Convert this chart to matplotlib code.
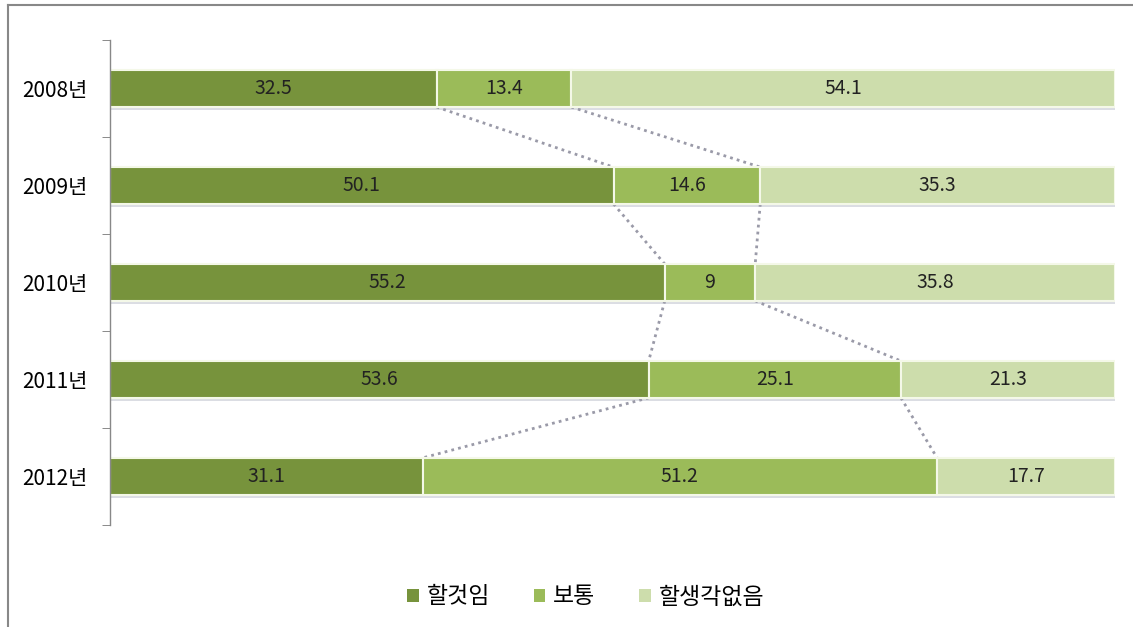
import matplotlib.pyplot as plt
import numpy as np
from matplotlib.lines import Line2D
from matplotlib.patches import Patch

plt.rcParams['font.family'] = ['Noto Sans CJK KR', 'DejaVu Sans']

years = ['2008년', '2009년', '2010년', '2011년', '2012년']
will_do = [32.5, 50.1, 55.2, 53.6, 31.1]
normal = [13.4, 14.6, 9, 25.1, 51.2]
no_plan = [54.1, 35.3, 35.8, 21.3, 17.7]
series_names = ['할것임', '보통', '할생각없음']
colors = ['#77933C', '#9BBB59', '#CDDDAC']

BAR_H = 0.38

fig = plt.figure(figsize=(11.33, 6.27), dpi=100)
ax = fig.add_axes([0.0971, 0.163, 0.887, 0.773])

y = np.arange(len(years))
left = np.zeros(len(years))
for vals, col in zip([will_do, normal, no_plan], colors):
    vals = np.array(vals, dtype=float)
    # soft shadow under each bar
    ax.barh(y + 0.03, vals, left=left, height=BAR_H, color='#b8bcc8', alpha=0.5,
            edgecolor='none', zorder=1)
    bars = ax.barh(y, vals, left=left, height=BAR_H, color=col,
                   edgecolor='#f4f8e8', linewidth=1.5, zorder=2)
    for b, v in zip(bars, vals):
        txt = f'{v:g}'
        ax.text(b.get_x() + b.get_width() / 2, b.get_y() + b.get_height() / 2, txt,
                ha='center', va='center', fontsize=14, color='#222222', zorder=3)
    left += vals

# dotted connectors between the segment boundaries
b1 = np.array(will_do, dtype=float)
b2 = b1 + np.array(normal, dtype=float)
for i in range(len(years) - 1):
    for bnd in (b1, b2):
        ax.plot([bnd[i], bnd[i + 1]], [i + BAR_H / 2, i + 1 - BAR_H / 2],
                linestyle=(0, (1, 1.5)), color='#9a9aa8', linewidth=2, zorder=1)

ax.set_xlim(0, 100)
ax.set_ylim(len(years) - 0.5, -0.5)
ax.set_yticks(y)
ax.set_yticklabels(years, fontsize=15)
ax.set_yticks(np.arange(-0.5, len(years)), minor=True)
ax.tick_params(axis='y', which='major', length=0, pad=16)
ax.tick_params(axis='y', which='minor', length=6, color='#777777', direction='out')
ax.set_xticks([])
for s in ['top', 'right', 'bottom']:
    ax.spines[s].set_visible(False)
ax.spines['left'].set_color('#888888')
ax.spines['left'].set_linewidth(1)

handles = [Patch(facecolor=c, edgecolor='none') for c in colors]
fig.legend(handles, series_names, loc='center', bbox_to_anchor=(0.517, 0.048),
           ncol=3, frameon=False, fontsize=16.5, handlelength=0.5, handleheight=0.5,
           handletextpad=0.35, columnspacing=1.9)

# partial frame of the screenshot
fig.add_artist(Line2D([8 / 1133, 8 / 1133], [0, 1 - 5 / 627], color='#888888', lw=1.5))
fig.add_artist(Line2D([8 / 1133, 1], [1 - 5 / 627, 1 - 5 / 627], color='#888888', lw=1.5))

fig.savefig('out.png', dpi=100)
